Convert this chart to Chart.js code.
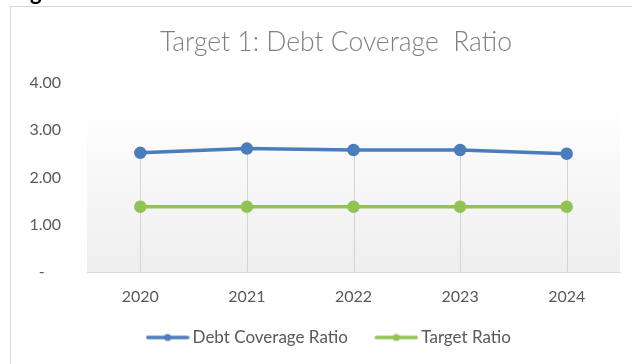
<!DOCTYPE html>
<html>
<head>
<meta charset="utf-8">
<script src="https://cdn.jsdelivr.net/npm/chart.js@4.4.1/dist/chart.umd.min.js"></script>
<style>
  html, body { margin: 0; padding: 0; background: #fff; }
  #wrap { position: relative; width: 632px; height: 364px; overflow: hidden; }
  #cut { position: absolute; left: 30px; top: -22px; font: bold 22px Lato, sans-serif; color: #000; }
</style>
</head>
<body>
<div id="wrap">
  <div id="cut">g</div>
  <canvas id="chart" width="632" height="364"></canvas>
</div>
<script>
const years = ["2020", "2021", "2022", "2023", "2024"];
const debtCoverage = [2.52, 2.61, 2.58, 2.58, 2.50];
const targetRatio = [1.38, 1.38, 1.38, 1.38, 1.38];
const yTicks = [0, 1, 2, 3, 4];

const blue = "#4a7dbb";
const green = "#92c353";

// legend swatch: line with a dot in the middle, like Excel
function legendSwatch(color) {
    const c = document.createElement("canvas");
    c.width = 44;
    c.height = 10;
    const ctx = c.getContext("2d");
    ctx.strokeStyle = color;
    ctx.lineWidth = 3.5;
    ctx.lineCap = "round";
    ctx.beginPath();
    ctx.moveTo(2, 5);
    ctx.lineTo(42, 5);
    ctx.stroke();
    ctx.fillStyle = color;
    ctx.beginPath();
    ctx.arc(22, 5, 3.5, 0, Math.PI * 2);
    ctx.fill();
    return c;
}

const frame = {
    id: "frame",
    afterLayout(chart) {
        // title and legend sit centred under the plot, not the whole canvas
        chart.titleBlock.left += 52;
        chart.legend.left += 21;
        chart.legend.right += 21;
        // let the year labels hang below the squeezed x axis box
        chart.scales.x.bottom = chart.height;
    },
    beforeDraw(chart) {
        const ctx = chart.ctx;
        const a = chart.chartArea;
        ctx.save();
        // outer chart border
        ctx.strokeStyle = "#d9d9d9";
        ctx.lineWidth = 1;
        ctx.strokeRect(10.5, 6.5, 700, 500);
        // plot area gradient
        const g = ctx.createLinearGradient(0, a.top, 0, a.bottom);
        g.addColorStop(0, "#ffffff");
        g.addColorStop(0.1, "#ffffff");
        g.addColorStop(1, "#eeeeee");
        ctx.fillStyle = g;
        ctx.fillRect(a.left, a.top, a.right - a.left, a.bottom - a.top);
        ctx.restore();
    },
    beforeDatasetsDraw(chart) {
        // drop lines from highest point down to the axis
        const ctx = chart.ctx;
        const xs = chart.scales.x;
        const ys = chart.scales.y;
        ctx.save();
        ctx.strokeStyle = "#d4d4d4";
        ctx.lineWidth = 1;
        years.forEach((y, i) => {
            const top = Math.max(debtCoverage[i], targetRatio[i]);
            const px = Math.round(xs.getPixelForValue(i)) + 0.5;
            ctx.beginPath();
            ctx.moveTo(px, ys.getPixelForValue(top));
            ctx.lineTo(px, ys.getPixelForValue(0));
            ctx.stroke();
        });
        ctx.restore();
    }
};

new Chart(document.getElementById("chart"), {
    type: "line",
    data: {
        labels: years,
        datasets: [{
            label: "Debt Coverage Ratio",
            data: debtCoverage,
            borderColor: blue,
            backgroundColor: blue,
            borderWidth: 3.5,
            pointRadius: 4.5,
            pointHoverRadius: 4.5,
            tension: 0
        }, {
            label: "Target Ratio",
            data: targetRatio,
            borderColor: green,
            backgroundColor: green,
            borderWidth: 3.5,
            pointRadius: 4.5,
            pointHoverRadius: 4.5,
            tension: 0
        }]
    },
    options: {
        responsive: false,
        animation: false,
        events: [],
        layout: {
            padding: { left: 0, right: 12, top: 10, bottom: 8 }
        },
        plugins: {
            title: {
                display: true,
                text: "Target 1: Debt Coverage  Ratio",
                color: "#808080",
                font: { family: "Lato", size: 26.5, weight: 300 },
                padding: { top: 17, bottom: 24 }
            },
            legend: {
                position: "bottom",
                labels: {
                    color: "#595959",
                    font: { family: "Lato", size: 17 },
                    usePointStyle: true,
                    pointStyleWidth: 33,
                    padding: 32,
                    generateLabels(chart) {
                        return chart.data.datasets.map((ds, i) => ({
                            text: ds.label,
                            pointStyle: legendSwatch(ds.borderColor),
                            fontColor: "#595959",
                            lineWidth: 0,
                            strokeStyle: "transparent",
                            fillStyle: ds.borderColor,
                            hidden: false,
                            datasetIndex: i
                        }));
                    }
                }
            },
            tooltip: { enabled: false }
        },
        scales: {
            x: {
                offset: true,
                afterFit(scale) {
                    scale.height = 25;
                },
                grid: { display: false, drawTicks: false },
                border: { display: true, color: "#d9d9d9" },
                ticks: {
                    color: "#595959",
                    font: { family: "Lato", size: 16 },
                    padding: 15
                }
            },
            y: {
                min: 0,
                max: 4,
                afterBuildTicks(scale) {
                    scale.ticks = yTicks.map(v => ({ value: v }));
                },
                afterFit(scale) {
                    scale.width = 87;
                },
                grid: { display: false, drawTicks: false },
                border: { display: false },
                ticks: {
                    color: "#595959",
                    font: { family: "Lato", size: 16 },
                    padding: 26,
                    callback: v => v === 0 ? "-    " : v.toFixed(2)
                }
            }
        }
    },
    plugins: [frame]
});
</script>
</body>
</html>
